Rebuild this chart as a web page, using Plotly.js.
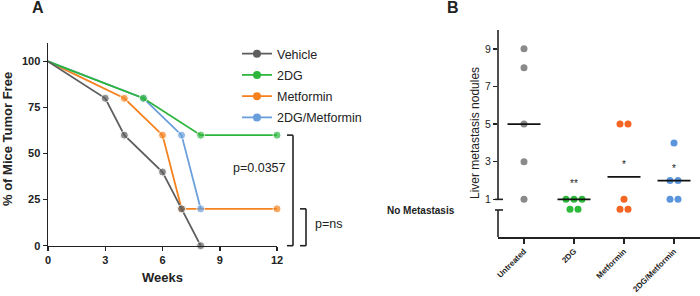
<!DOCTYPE html>
<html><head><meta charset="utf-8">
<script src="https://cdn.plot.ly/plotly-3.0.1.min.js"></script>
<style>html,body{margin:0;padding:0;background:#fff;}#chart{width:700px;height:296px;}</style>
</head><body><div id="chart"></div>
<script>
// ---------- Panel A data ----------
const seriesNames = ['Vehicle', '2DG', 'Metformin', '2DG/Metformin'];
const vehicleWeeks = [0, 3, 4, 6, 7, 8];
const vehicleFree  = [100, 80, 60, 40, 20, 0];
const dgWeeks      = [0, 5, 8, 12];
const dgFree       = [100, 80, 60, 60];
const metWeeks     = [0, 4, 6, 7, 12];
const metFree      = [100, 80, 60, 20, 20];
const comboWeeks   = [0, 5, 7, 8];
const comboFree    = [100, 80, 60, 20];
const weekTicks    = [0, 3, 6, 9, 12];
const freeTicks    = [0, 25, 50, 75, 100];
const pValueTexts  = ['p=0.0357', 'p=ns'];

// ---------- Panel B data ----------
const groups           = ['Untreated', '2DG', 'Metformin', '2DG/Metformin'];
const untreatedNodules = [9, 8, 5, 3, 1];
const dgNodules        = [1, 1, 1, 0, 0];
const metNodules       = [5, 5, 1, 0, 0];
const comboNodules     = [4, 2, 2, 1, 1];
const groupLines       = [5, 1, 2.2, 2];
const starTexts        = ['', '**', '*', '*'];
const noduleTicks      = [1, 3, 5, 7, 9];

// ---------- styles / layout constants ----------
const colorsA = ['#5e5e5e', '#2db53c', '#f5821f', '#6a9fdc'];
const colorsB = ['#8a8a8a', '#2dba3a', '#f26522', '#5b96dc'];
const FONT = 'Arial, "Liberation Sans", sans-serif';
const INK = '#222';
const W = 700, H = 296;
const PX = x => x / W, PY = y => 1 - y / H;
// panel A plot box (pixels)
const A = {l: 48, r: 277, t: 43, b: 245.7, ymax: 110};
// panel B plot box (pixels)
const B = {l: 498, r: 700, t: 30, b: 237, ymin: -1, ymax: 10};
const pyA = v => A.b - v / A.ymax * (A.b - A.t);
const pyB = v => B.b - (v - B.ymin) / (B.ymax - B.ymin) * (B.b - B.t);
const noMetLevel = 0.47;     // display level of "no metastasis" (0 nodules)
const swarmStep = 0.16;      // horizontal spacing of tied points
const lineHalf = 0.33;       // half width of group line
const starLevels = [null, 1.85, 2.85, 2.65];

const traces = [];
// Panel A traces, drawn in overlap order; legend entries separately in legend order
const aSeries = [
  [vehicleWeeks, vehicleFree], [dgWeeks, dgFree], [metWeeks, metFree], [comboWeeks, comboFree]
];
[2, 3, 1, 0].forEach(i => {
  const [x, y] = aSeries[i];
  traces.push({
    type: 'scatter', mode: 'lines+markers', x: x, y: y, xaxis: 'x', yaxis: 'y',
    name: seriesNames[i], showlegend: false, cliponaxis: false, hoverinfo: 'x+y+name',
    line: {color: colorsA[i], width: 1.8},
    marker: {color: colorsA[i], size: x.map((_, k) => k === 0 ? 0 : 8)}
  });
});
seriesNames.forEach((n, i) => {
  traces.push({
    type: 'scatter', mode: 'lines+markers', x: [null], y: [null], xaxis: 'x', yaxis: 'y',
    name: n, legendgroup: n, showlegend: true,
    line: {color: colorsA[i], width: 1.8}, marker: {color: colorsA[i], size: 8}
  });
});

// Panel B traces
const bSeries = [untreatedNodules, dgNodules, metNodules, comboNodules];
bSeries.forEach((vals, gi) => {
  const counts = {}, seen = {};
  vals.forEach(v => counts[v] = (counts[v] || 0) + 1);
  const xs = [], ys = [];
  vals.forEach(v => {
    const k = seen[v] || 0; seen[v] = k + 1;
    xs.push(gi + (k - (counts[v] - 1) / 2) * swarmStep);
    ys.push(v === 0 ? noMetLevel : v);
  });
  traces.push({
    type: 'scatter', mode: 'markers', x: xs, y: ys, xaxis: 'x2', yaxis: 'y2',
    name: groups[gi], showlegend: false, cliponaxis: false,
    marker: {color: colorsB[gi], size: 7}
  });
});
groupLines.forEach((v, gi) => {
  traces.push({
    type: 'scatter', mode: 'lines', x: [gi - lineHalf, gi + lineHalf], y: [v, v],
    xaxis: 'x2', yaxis: 'y2', showlegend: false, hoverinfo: 'skip',
    line: {color: '#111', width: 1.8}
  });
});

// shapes: brackets + broken y axis of panel B
const ln = (x0, y0, x1, y1) => ({type: 'line', xref: 'paper', yref: 'paper',
  x0: PX(x0), y0: PY(y0), x1: PX(x1), y1: PY(y1), line: {color: INK, width: 1.6}});
const shapes = [
  ln(287, pyA(60), 293, pyA(60)), ln(293, pyA(60), 293, pyA(0)), ln(287, pyA(0), 293, pyA(0)),
  ln(300, pyA(20), 306, pyA(20)), ln(306, pyA(20), 306, pyA(0)), ln(300, pyA(0), 306, pyA(0)),
  ln(B.l, B.t, B.l, pyB(1)), ln(B.l - 3, pyB(1), B.l + 5, pyB(1)),
  ln(B.l - 3, 210, B.l + 5, 210), ln(B.l, 210, B.l, B.b)
];

const ann = (x, y, text, size, opts) => Object.assign({
  xref: 'paper', yref: 'paper', x: PX(x), y: PY(y), text: text, showarrow: false,
  xanchor: 'center', yanchor: 'middle', font: {family: FONT, size: size, color: INK}
}, opts || {});
const annotations = [
  ann(38, 8, 'A', 16, {font: {family: FONT, size: 16, color: INK, weight: 700}}),
  ann(453, 8, 'B', 16, {font: {family: FONT, size: 16, color: INK, weight: 700}}),
  ann(8, 139, '% of Mice Tumor Free', 13, {textangle: -90, font: {family: FONT, size: 13, color: INK, weight: 700}}),
  ann(162.5, 277, 'Weeks', 13, {font: {family: FONT, size: 13, color: INK, weight: 700}}),
  ann(259, 168, pValueTexts[0], 12.5),
  ann(313, 224, pValueTexts[1], 12.5, {xanchor: 'left'}),
  ann(475, 133, 'Liver metastasis nodules', 12, {textangle: -90}),
  ann(420.5, 210, 'No Metastasis', 10, {font: {family: FONT, size: 10, color: INK, weight: 700}})
];
starTexts.forEach((s, gi) => {
  if (!s) return;
  annotations.push({xref: 'x2', yref: 'y2', x: gi, y: starLevels[gi], text: s, showarrow: false,
    xanchor: 'center', yanchor: 'middle', font: {family: FONT, size: 10, color: INK}});
});

const axBase = {showgrid: false, zeroline: false, ticks: 'outside', ticklen: 4, tickwidth: 1.5,
  tickcolor: INK, linecolor: INK, linewidth: 1.5, fixedrange: true};
const layout = {
  width: W, height: H, margin: {l: 0, r: 0, t: 0, b: 0},
  paper_bgcolor: '#fff', plot_bgcolor: 'rgba(0,0,0,0)',
  font: {family: FONT, color: INK},
  showlegend: true,
  legend: {x: PX(237), y: PY(39), xanchor: 'left', yanchor: 'top', bgcolor: 'rgba(0,0,0,0)',
    font: {family: FONT, size: 12.5, color: INK}, tracegroupgap: 2, traceorder: 'grouped'},
  xaxis: Object.assign({}, axBase, {domain: [PX(A.l), PX(A.r)], range: [0, 12], anchor: 'y',
    tickvals: weekTicks, showline: true, tickfont: {family: FONT, size: 11, color: INK, weight: 700}}),
  yaxis: Object.assign({}, axBase, {domain: [PY(A.b), PY(A.t)], range: [0, A.ymax], anchor: 'x',
    tickvals: freeTicks, showline: true, tickfont: {family: FONT, size: 11, color: INK, weight: 700}}),
  xaxis2: Object.assign({}, axBase, {domain: [PX(B.l), PX(B.r)], range: [-0.52, 3.52], anchor: 'y2',
    tickvals: [0, 1, 2, 3], ticktext: groups, tickangle: -45, showline: true, ticklen: 5,
    tickfont: {family: FONT, size: 8, color: INK, weight: 700}}),
  yaxis2: Object.assign({}, axBase, {domain: [PY(B.b), PY(B.t)], range: [B.ymin, B.ymax], anchor: 'x2',
    tickvals: noduleTicks, showline: false, tickfont: {family: FONT, size: 10.5, color: INK}}),
  shapes: shapes, annotations: annotations
};
Plotly.newPlot('chart', traces, layout, {displayModeBar: false, staticPlot: true});
</script></body></html>
